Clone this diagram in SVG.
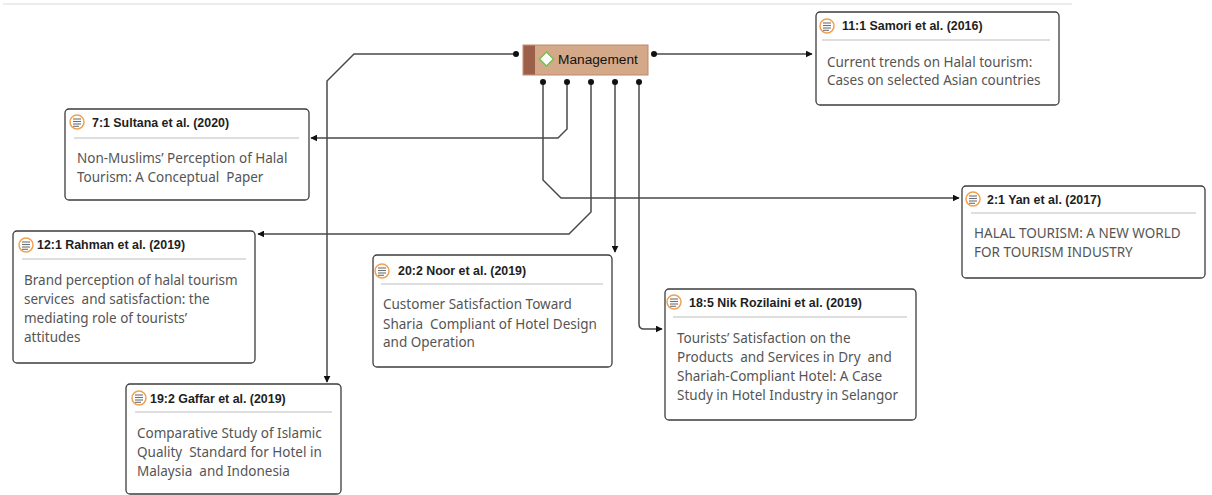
<svg xmlns="http://www.w3.org/2000/svg" width="1212" height="495" viewBox="0 0 1212 495">
<style>
.box{fill:#fff;stroke:#3c3c3c;stroke-width:1.3}
.sep{stroke:#bdbdbd;stroke-width:1}
.ttl{font-family:"Liberation Sans",Arial,sans-serif;font-size:12.4px;font-weight:bold;fill:#1e1e1e;white-space:pre}
.body{font-family:"Noto Sans","Liberation Sans",Arial,sans-serif;font-size:13.5px;fill:#555;white-space:pre}
.ic{fill:#fff;stroke:#f0a050;stroke-width:1.5}
.icl{stroke:#707070;stroke-width:1.1}
.wire{fill:none;stroke:#4a4a4a;stroke-width:1.5}
.dot{fill:#111}
</style>
<defs>
<marker id="arr" viewBox="0 0 10 10" refX="9" refY="5" markerWidth="7" markerHeight="7" markerUnits="userSpaceOnUse" orient="auto">
<path d="M0,0 L10,5 L0,10 z" fill="#111"/>
</marker>
<g id="icon">
<circle cx="0" cy="0" r="7" class="ic"/>
<line x1="-4" y1="-3" x2="4" y2="-3" class="icl"/>
<line x1="-4" y1="-0.5" x2="4" y2="-0.5" class="icl"/>
<line x1="-4" y1="2" x2="4" y2="2" class="icl"/>
<line x1="-4" y1="4.3" x2="2" y2="4.3" class="icl"/>
</g>
</defs>
<line x1="3" y1="4" x2="1072" y2="4" stroke="#dadada" stroke-width="1"/>
<g id="connectors">
<path class="wire" d="M516,54 L354,54 L327,81 L327,382" marker-end="url(#arr)"/>
<path class="wire" d="M567,82 L567,129 L558,138 L311,138" marker-end="url(#arr)"/>
<path class="wire" d="M543,82 L543,180 L561,198 L959,198" marker-end="url(#arr)"/>
<path class="wire" d="M591,82 L591,212 L569,234 L258,234" marker-end="url(#arr)"/>
<path class="wire" d="M615,82 L615,252" marker-end="url(#arr)"/>
<path class="wire" d="M639,82 L639,324 Q639,329 644,329 L662,329" marker-end="url(#arr)"/>
<path class="wire" d="M654,54 L812,54" marker-end="url(#arr)"/>
<circle class="dot" cx="516" cy="54" r="3"/>
<circle class="dot" cx="654" cy="54" r="3"/>
<circle class="dot" cx="543" cy="82" r="3"/>
<circle class="dot" cx="567" cy="82" r="3"/>
<circle class="dot" cx="591" cy="82" r="3"/>
<circle class="dot" cx="615" cy="82" r="3"/>
<circle class="dot" cx="639" cy="82" r="3"/>
</g>
<g id="management">
<rect x="523" y="45" width="125" height="30" fill="#d4a98a" stroke="#c08868" stroke-width="1"/>
<rect x="523.5" y="45.5" width="11.5" height="29" fill="#9c604a"/>
<path d="M546.5,52 L553.5,59 L546.5,66 L539.5,59 z" fill="#fff" stroke="#78c050" stroke-width="1.5"/>
<text x="558" y="64" font-family="'Liberation Sans',Arial,sans-serif" font-size="13.7" fill="#111">Management</text>
</g>
<g id="samori">
<rect class="box" x="816" y="12" width="243" height="93" rx="4"/>
<use href="#icon" x="827" y="26"/>
<text class="ttl" x="842" y="30">11:1 Samori et al. (2016)</text>
<line class="sep" x1="822" y1="40" x2="1050" y2="40"/>
<text class="body" x="827" y="67">Current trends on Halal tourism:</text>
<text class="body" x="827" y="85">Cases on selected Asian countries</text>
</g>
<g id="sultana">
<rect class="box" x="65" y="109" width="244" height="91" rx="4"/>
<use href="#icon" x="77" y="122"/>
<text class="ttl" x="92" y="127">7:1 Sultana et al. (2020)</text>
<line class="sep" x1="74" y1="138" x2="299" y2="138"/>
<text class="body" x="77" y="163">Non-Muslims’ Perception of Halal</text>
<text class="body" x="77" y="182">Tourism: A Conceptual  Paper</text>
</g>
<g id="yan">
<rect class="box" x="962" y="186" width="243" height="92" rx="4"/>
<use href="#icon" x="973" y="199"/>
<text class="ttl" x="987" y="204">2:1 Yan et al. (2017)</text>
<line class="sep" x1="971" y1="213" x2="1196" y2="213"/>
<text class="body" x="974" y="238">HALAL TOURISM: A NEW WORLD</text>
<text class="body" x="974" y="257">FOR TOURISM INDUSTRY</text>
</g>
<g id="rahman">
<rect class="box" x="13" y="231" width="242" height="132" rx="4"/>
<use href="#icon" x="26" y="245"/>
<text class="ttl" x="37" y="249">12:1 Rahman et al. (2019)</text>
<line class="sep" x1="22" y1="259" x2="246" y2="259"/>
<text class="body" x="24" y="285">Brand perception of halal tourism</text>
<text class="body" x="24" y="304">services  and satisfaction: the</text>
<text class="body" x="24" y="323">mediating role of tourists’</text>
<text class="body" x="24" y="342">attitudes</text>
</g>
<g id="noor">
<rect class="box" x="373" y="255" width="239" height="112" rx="4"/>
<use href="#icon" x="382" y="271"/>
<text class="ttl" x="398" y="275">20:2 Noor et al. (2019)</text>
<line class="sep" x1="381" y1="284" x2="603" y2="284"/>
<text class="body" x="383" y="309">Customer Satisfaction Toward</text>
<text class="body" x="383" y="329">Sharia  Compliant of Hotel Design</text>
<text class="body" x="383" y="347">and Operation</text>
</g>
<g id="nik">
<rect class="box" x="665" y="289" width="251" height="131" rx="4"/>
<use href="#icon" x="674" y="302"/>
<text class="ttl" x="689" y="307">18:5 Nik Rozilaini et al. (2019)</text>
<line class="sep" x1="673" y1="317" x2="907" y2="317"/>
<text class="body" x="677" y="343">Tourists’ Satisfaction on the</text>
<text class="body" x="677" y="362">Products  and Services in Dry  and</text>
<text class="body" x="677" y="381">Shariah-Compliant Hotel: A Case</text>
<text class="body" x="677" y="400">Study in Hotel Industry in Selangor</text>
</g>
<g id="gaffar">
<rect class="box" x="126" y="384" width="215" height="110" rx="4"/>
<use href="#icon" x="139" y="398"/>
<text class="ttl" x="150" y="403">19:2 Gaffar et al. (2019)</text>
<line class="sep" x1="135" y1="412" x2="332" y2="412"/>
<text class="body" x="137" y="438">Comparative Study of Islamic</text>
<text class="body" x="137" y="457">Quality  Standard for Hotel in</text>
<text class="body" x="137" y="476">Malaysia  and Indonesia</text>
</g>
</svg>
